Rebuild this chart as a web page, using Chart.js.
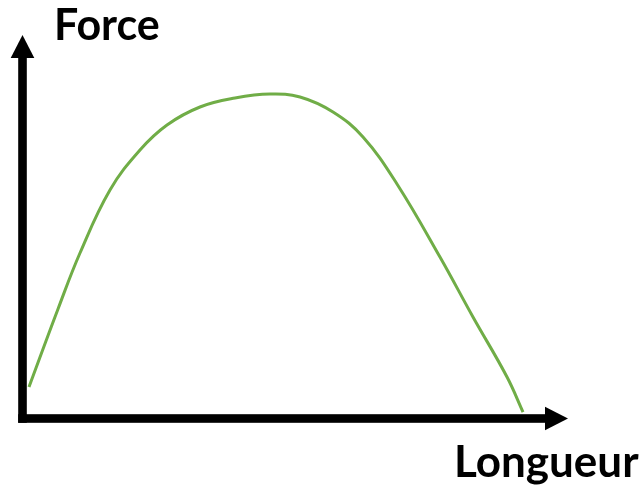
<!DOCTYPE html>
<html>
<head>
<meta charset="utf-8">
<style>
  html, body { margin: 0; padding: 0; background: #ffffff; }
  #wrap { width: 643px; height: 487px; }
</style>
<script src="https://cdn.jsdelivr.net/npm/chart.js@4/dist/chart.umd.min.js"></script>
</head>
<body>
<div id="wrap"><canvas id="c" width="643" height="487"></canvas></div>
<script>
// Data (relative units: 0..100 on each axis, 100 = arrow tip)
const longueur = [1.19, 6.51, 10.54, 16.04, 21.54, 26.49, 32.54, 38.96, 45.37, 50.87, 56.92, 62.42, 68.65, 76.53, 82.58, 88.82, 91.75];
const force    = [8.21, 28.55, 43.16, 59.58, 70.01, 76.53, 81.23, 83.57, 84.62, 83.83, 79.92, 73.40, 61.15, 42.11, 26.47, 10.82, 1.69];
const yLabel = "Force";
const xLabel = "Longueur";

const points = longueur.map((x, i) => ({ x: x, y: force[i] }));

const axesPlugin = {
  id: 'arrowAxes',
  beforeDatasetsDraw(chart) {
    const ctx = chart.ctx;
    const xs = chart.scales.x, ys = chart.scales.y;
    const x0 = xs.getPixelForValue(0), y0 = ys.getPixelForValue(0);
    const xTip = xs.getPixelForValue(100), yTip = ys.getPixelForValue(100);
    const half = 4.3, head = 22, hw = 11.8;
    ctx.save();
    ctx.fillStyle = '#000000';
    ctx.fillRect(x0 - half, yTip + head, half * 2, (y0 + half) - (yTip + head));
    ctx.beginPath();
    ctx.moveTo(x0, yTip);
    ctx.lineTo(x0 + hw, yTip + head + 1);
    ctx.lineTo(x0 - hw, yTip + head + 1);
    ctx.closePath();
    ctx.fill();
    ctx.fillRect(x0 - half, y0 - half, (xTip - head) - (x0 - half), half * 2);
    ctx.beginPath();
    ctx.moveTo(xTip, y0);
    ctx.lineTo(xTip - head - 1, y0 - hw);
    ctx.lineTo(xTip - head - 1, y0 + hw);
    ctx.closePath();
    ctx.fill();
    ctx.restore();
  },
  afterDraw(chart) {
    const ctx = chart.ctx;
    ctx.save();
    ctx.fillStyle = '#000000';
    ctx.font = 'bold 43px Lato, "Open Sans", sans-serif';
    ctx.textBaseline = 'alphabetic';
    ctx.textAlign = 'left';
    ctx.fillText(yLabel, 54, 40);
    ctx.font = 'bold 44px Lato, "Open Sans", sans-serif';
    ctx.fillText(xLabel, 454, 477);
    ctx.restore();
  }
};

new Chart(document.getElementById('c'), {
  type: 'line',
  data: {
    datasets: [{
      data: points,
      borderColor: '#70AD47',
      borderWidth: 3,
      pointRadius: 0,
      fill: false,
      tension: 0.4
    }]
  },
  options: {
    responsive: false,
    animation: false,
    layout: { padding: { left: 22.5, top: 35, right: 75, bottom: 68.5 } },
    plugins: { legend: { display: false }, tooltip: { enabled: false }, title: { display: false } },
    scales: {
      x: { type: 'linear', min: 0, max: 100, display: false },
      y: { type: 'linear', min: 0, max: 100, display: false }
    }
  },
  plugins: [axesPlugin]
});
</script>
</body>
</html>
